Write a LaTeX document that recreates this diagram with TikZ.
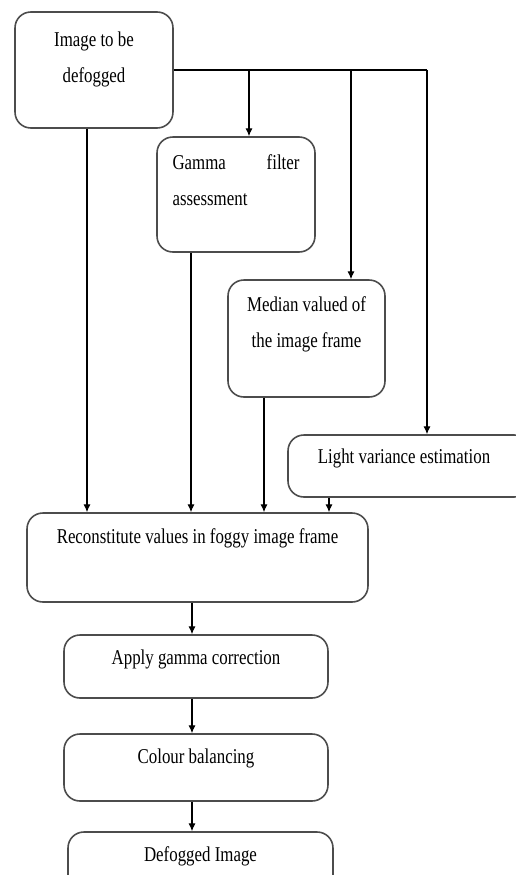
\documentclass[tikz,border=0pt]{standalone}
\usepackage{fontspec}
\setmainfont{Liberation Serif}[FakeStretch=0.8]
\usepackage{tikz}
\usetikzlibrary{positioning}
\usetikzlibrary{arrows.meta}
\tikzset{
    procbox/.style = {draw=black!70, line width=0.9pt, rounded corners=9pt, inner sep=0pt},
    proctext/.style = {anchor=north, inner sep=0pt, align=center, font=\fontsize{12}{20.5}\selectfont},
}

\begin{document}
\begin{tikzpicture}[x=0.02cm, y=-0.02cm]
\tikzset{
    edgen/.style = {line width=0.6pt},
    edgea/.style = {line width=0.6pt, -{Latex[length=4.5pt,width=4pt]}}
}
\useasboundingbox (0,0) rectangle (515,875);
% boxes
\node[procbox, minimum width=3.16cm, minimum height=2.32cm] at (94,70) (img) {};
\node[procbox, minimum width=3.16cm, minimum height=2.30cm] at (236,194.5) (gamma) {};
\node[procbox, minimum width=3.14cm, minimum height=2.34cm] at (306.5,338.5) (median) {};
\node[procbox, minimum width=4.84cm, minimum height=1.24cm] at (409,466) (light) {};
\node[procbox, minimum width=6.82cm, minimum height=1.78cm] at (197.5,557.5) (recon) {};
\node[procbox, minimum width=5.28cm, minimum height=1.26cm] at (196,666.5) (apply) {};
\node[procbox, minimum width=5.28cm, minimum height=1.34cm] at (196,767.5) (colour) {};
\node[procbox, minimum width=5.30cm, minimum height=1.26cm] at (200.5,863.5) (out) {};
% texts
\node[proctext, below=0.40cm of img.north] (imgt) {Image to be\\defogged};
\node[proctext, below=0.36cm of gamma.north, align=left, text width=2.54cm] (gammat) {Gamma\hfill filter\\assessment};
\node[proctext, below=0.34cm of median.north] (mediant) {Median valued of\\the image frame};
\node[proctext, below=0.28cm of light.north, xshift=-0.1cm] (lightt) {Light variance estimation};
\node[proctext, below=0.32cm of recon.north] (recont) {Reconstitute values in foggy image frame};
\node[proctext, below=0.30cm of apply.north] (applyt) {Apply gamma correction};
\node[proctext, below=0.30cm of colour.north] (colourt) {Colour balancing};
\node[proctext, below=0.30cm of out.north] (outt) {Defogged Image};
%
\coordinate (dropg) at (249,0);
\coordinate (dropm) at (351,0);
\coordinate (dropl) at (427,0);
\coordinate (cola) at (87,0);
\coordinate (colb) at (191,0);
\coordinate (colc) at (264,0);
\coordinate (cold) at (329,0);
\coordinate (spine) at (192,0);
%
\draw[edgen] (img.east) -- (img.east -| dropl);
\draw[edgea] (img.east -| dropg) -- (gamma.north -| dropg);
\draw[edgea] (img.east -| dropm) -- (median.north -| dropm);
\draw[edgea] (img.east -| dropl) -- (light.north -| dropl);
%
\draw[edgea] (img.south -| cola) -- (recon.north -| cola);
\draw[edgea] (gamma.south -| colb) -- (recon.north -| colb);
\draw[edgea] (median.south -| colc) -- (recon.north -| colc);
\draw[edgea] (light.south -| cold) -- (recon.north -| cold);
%
\draw[edgea] (recon.south -| spine) -- (apply.north -| spine);
\draw[edgea] (apply.south -| spine) -- (colour.north -| spine);
\draw[edgea] (colour.south -| spine) -- (out.north -| spine);
\end{tikzpicture}
\end{document}
